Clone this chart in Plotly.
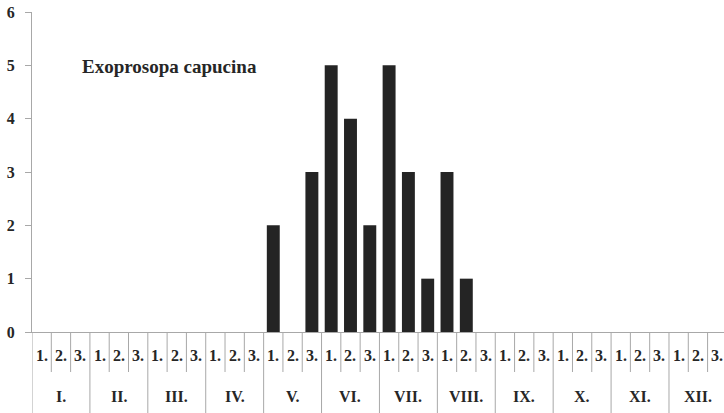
import plotly.graph_objects as go

months = ["I.", "II.", "III.", "IV.", "V.", "VI.", "VII.", "VIII.", "IX.", "X.", "XI.", "XII."]
decades = ["1.", "2.", "3."]
values = [0, 0, 0,  0, 0, 0,  0, 0, 0,  0, 0, 0,
          2, 0, 3,  5, 4, 2,  5, 3, 1,  3, 1, 0,
          0, 0, 0,  0, 0, 0,  0, 0, 0,  0, 0, 0]
y_ticks = [0, 1, 2, 3, 4, 5, 6]
title_text = "Exoprosopa capucina"

n = len(months) * len(decades)
xs = list(range(n))

fig = go.Figure()
fig.add_trace(go.Bar(x=xs, y=values, width=0.67,
                     marker=dict(color="#242424", line=dict(width=0))))

FAM = "Liberation Serif"
TXT = "#262626"
bold = lambda s: "<b>%s</b>" % s

shapes = []
annotations = []
line_col = "#a8a8a8"
for k in range(n + 1):
    xpos = k - 0.5
    y1 = -0.26 if k % 3 == 0 else -0.125
    shapes.append(dict(type="line", xref="x", yref="paper", x0=xpos, x1=xpos,
                       y0=0, y1=y1, line=dict(color=line_col, width=1)))
for i, m in enumerate(months):
    for j, d in enumerate(decades):
        annotations.append(dict(x=i * 3 + j, y=-0.072, xref="x", yref="paper",
                                text=bold(d), showarrow=False,
                                font=dict(family=FAM, size=16, color=TXT),
                                xanchor="center", yanchor="middle"))
    annotations.append(dict(x=i * 3 + 1, y=-0.2, xref="x", yref="paper",
                            text=bold(m), showarrow=False,
                            font=dict(family=FAM, size=16, color=TXT),
                            xanchor="center", yanchor="middle"))
annotations.append(dict(x=0.07, y=0.829, xref="paper", yref="paper",
                        text=bold(title_text), showarrow=False,
                        font=dict(family=FAM, size=19, color=TXT),
                        xanchor="left", yanchor="middle"))

fig.update_layout(
    width=724, height=413,
    margin=dict(l=32, r=0, t=12, b=81),
    paper_bgcolor="white", plot_bgcolor="white",
    showlegend=False,
    shapes=shapes, annotations=annotations,
    xaxis=dict(range=[-0.5, 35.35], showticklabels=False, showgrid=False,
               zeroline=False, showline=True, linecolor=line_col, linewidth=1,
               ticks="", automargin=False),
    yaxis=dict(range=[0, 6], tickvals=y_ticks,
               ticktext=[bold(str(v)) for v in y_ticks],
               showgrid=False, zeroline=False, showline=True, automargin=False,
               linecolor=line_col, linewidth=1, ticks="outside", ticklen=6,
               ticklabelstandoff=7,
               tickcolor=line_col, tickfont=dict(family=FAM, size=16, color=TXT)),
)

fig.write_html("out.html", post_script="document.body.style.margin='0';",
               config={"displayModeBar": False})
